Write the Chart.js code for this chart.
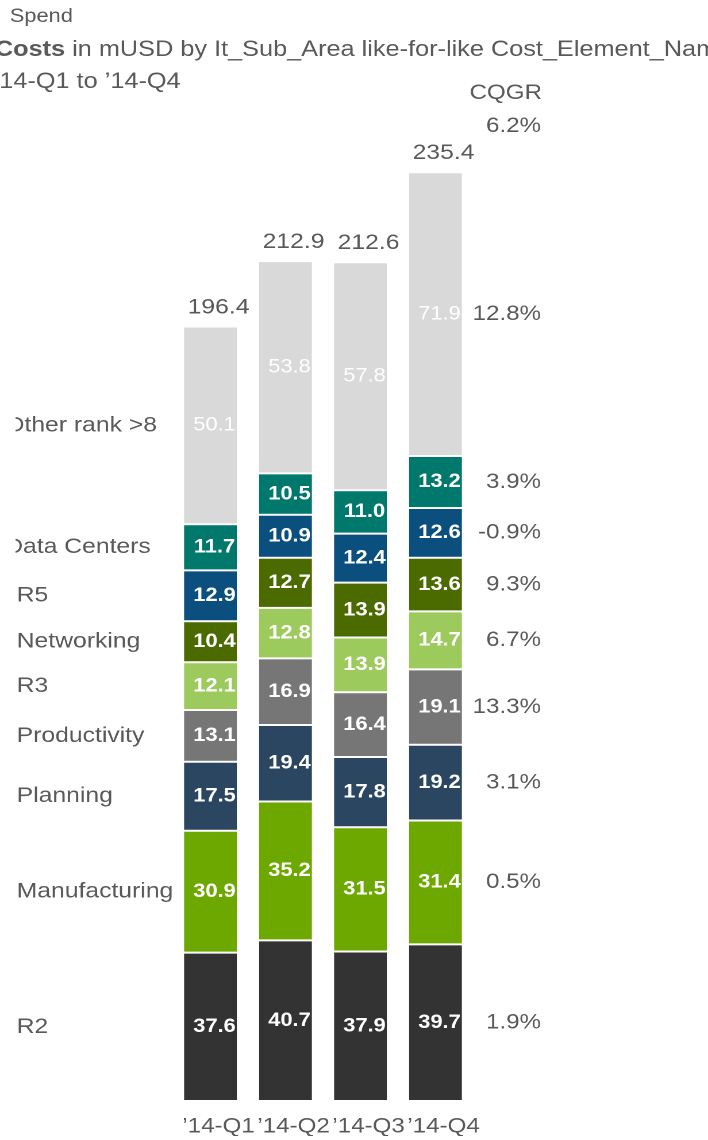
<!DOCTYPE html>
<html>
<head>
<meta charset="utf-8">
<script src="https://cdn.jsdelivr.net/npm/chart.js@4/dist/chart.umd.min.js"></script>
<style>
  html, body { margin: 0; padding: 0; background: #ffffff; overflow: hidden; }
  #wrap { width: 616px; height: 1140px; transform: scaleX(1.1494); transform-origin: 0 0; }
</style>
</head>
<body>
<div id="wrap"><canvas id="chart" width="616" height="1140"></canvas></div>
<script>
// Quarters on the x axis
const categories = ['\u201914-Q1', '\u201914-Q2', '\u201914-Q3', '\u201914-Q4'];

// Cost areas, bottom of the stack first
const seriesNames = ['R2', 'Manufacturing', 'Planning', 'Productivity', 'R3', 'Networking', 'R5', 'Data Centers', 'Other rank >8'];

// Costs in mUSD per quarter
const r2            = [37.6, 40.7, 37.9, 39.7];
const manufacturing = [30.9, 35.2, 31.5, 31.4];
const planning      = [17.5, 19.4, 17.8, 19.2];
const productivity  = [13.1, 16.9, 16.4, 19.1];
const r3            = [12.1, 12.8, 13.9, 14.7];
const networking    = [10.4, 12.7, 13.9, 13.6];
const r5            = [12.9, 10.9, 12.4, 12.6];
const dataCenters   = [11.7, 10.5, 11.0, 13.2];
const otherRank     = [50.1, 53.8, 57.8, 71.9];

// Quarter totals and compound quarterly growth per area
const totals = [196.4, 212.9, 212.6, 235.4];
const cqgr = ['1.9%', '0.5%', '3.1%', '13.3%', '6.7%', '9.3%', '-0.9%', '3.9%', '12.8%'];
const totalCqgr = '6.2%';

const seriesValues = [r2, manufacturing, planning, productivity, r3, networking, r5, dataCenters, otherRank];
const seriesColors = ['#333333', '#6da800', '#2b4661', '#767676', '#9dca5c', '#4b6a00', '#0b4f7f', '#00786b', '#d9d9d9'];

const FONT = '"Liberation Sans", Arial, sans-serif';
const TEXT = '#595959';

const datasets = seriesNames.map((name, i) => ({
  label: name,
  data: seriesValues[i],
  backgroundColor: seriesColors[i],
  borderColor: 'rgba(255,255,255,0.55)',
  borderWidth: 1,
  borderSkipped: false,
  categoryPercentage: 0.734,
  barPercentage: 1.0
}));

// Labels drawn around the stacked bars
const annotations = {
  id: 'annotations',
  afterDatasetsDraw(chart) {
    const ctx = chart.ctx;
    const metas = chart.data.datasets.map((d, i) => chart.getDatasetMeta(i));
    ctx.save();

    // values inside each segment
    ctx.textAlign = 'center';
    ctx.textBaseline = 'middle';
    metas.forEach((meta, di) => {
      const light = di === metas.length - 1;
      ctx.font = (light ? '' : 'bold ') + '19px ' + FONT;
      ctx.fillStyle = '#ffffff';
      meta.data.forEach((bar, ci) => {
        const v = chart.data.datasets[di].data[ci];
        ctx.fillText(v.toFixed(1), bar.x + 3.5, (bar.y + bar.base) / 2);
      });
    });

    // totals above each stack
    ctx.font = '21.5px ' + FONT;
    ctx.fillStyle = TEXT;
    const topMeta = metas[metas.length - 1];
    topMeta.data.forEach((bar, ci) => {
      ctx.fillText(totals[ci].toFixed(1), bar.x + 7, bar.y - 19);
    });

    // area names beside the first quarter
    ctx.textAlign = 'left';
    metas.forEach((meta, di) => {
      const bar = meta.data[0];
      const y = (bar.y + bar.base) / 2;
      const name = seriesNames[di];
      ctx.save();
      ctx.beginPath();
      ctx.rect(13.5, 0, 600, 1140);
      ctx.clip();
      const x = (name === 'Other rank >8' || name === 'Data Centers') ? 4.5 : 14.5;
      ctx.fillText(name, x, y);
      ctx.restore();
    });

    // growth rates beside the last quarter
    ctx.font = '21px ' + FONT;
    const lastIdx = categories.length - 1;
    ctx.textAlign = 'right';
    metas.forEach((meta, di) => {
      const bar = meta.data[lastIdx];
      ctx.fillText(cqgr[di], 470.7, (bar.y + bar.base) / 2);
    });
    ctx.fillText(totalCqgr, 470.7, 126);
    ctx.textAlign = 'center';
    ctx.fillText('CQGR', 440, 93);

    // heading
    ctx.textAlign = 'left';
    ctx.font = '19px ' + FONT;
    ctx.fillText('Spend', 8.5, 17);
    ctx.font = 'bold 22px ' + FONT;
    const lead = 'Costs';
    ctx.fillText(lead, -4.5, 50);
    const w = ctx.measureText(lead).width;
    ctx.font = '22px ' + FONT;
    ctx.fillText(' in mUSD by It_Sub_Area like-for-like Cost_Element_Name', -4.5 + w, 50);
    ctx.fillText('\u201914-Q1 to \u201914-Q4', -5.5, 82);

    ctx.restore();
  }
};

new Chart(document.getElementById('chart'), {
  type: 'bar',
  data: { labels: categories, datasets },
  options: {
    responsive: false,
    devicePixelRatio: 2,
    animation: false,
    layout: { padding: { left: 150.5, right: 204.5, top: 114.7, bottom: 4 } },
    plugins: { legend: { display: false }, tooltip: { enabled: false } },
    scales: {
      x: {
        stacked: true,
        grid: { display: false },
        border: { display: false },
        afterFit: (axis) => { axis.height = 35; },
        ticks: { color: TEXT, font: { family: FONT, size: 21 }, padding: 5, labelOffset: 7, maxRotation: 0, autoSkip: false }
      },
      y: {
        stacked: true,
        min: 0,
        max: 250,
        display: false
      }
    }
  },
  plugins: [annotations]
});
</script>
</body>
</html>
